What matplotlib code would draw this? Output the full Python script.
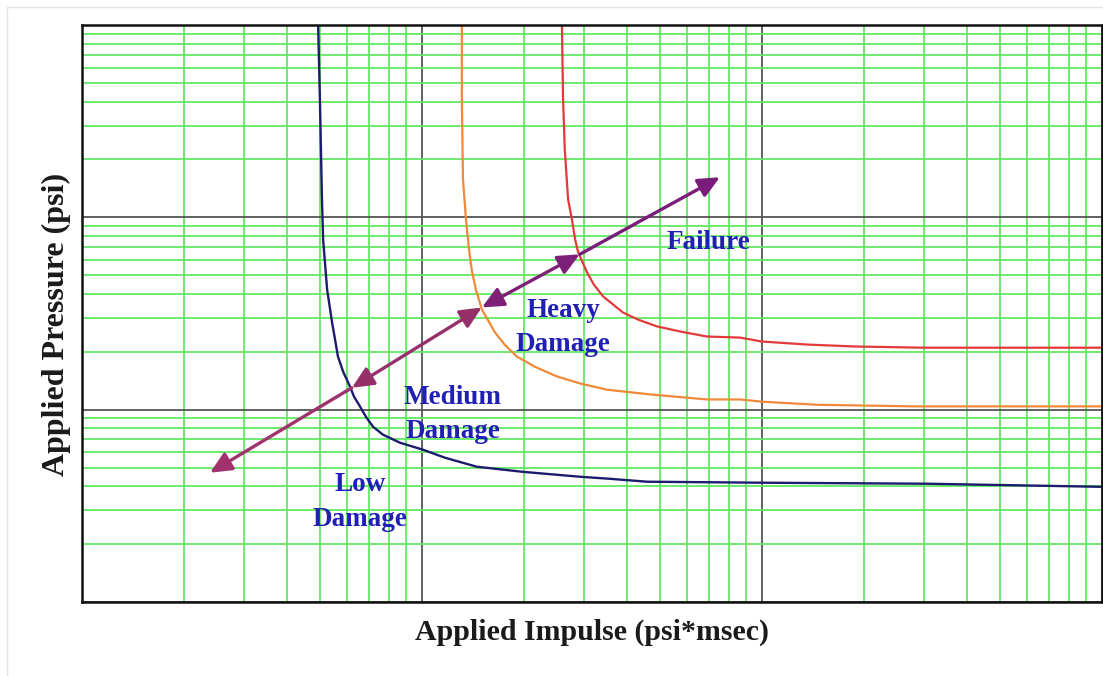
import matplotlib
matplotlib.use('Agg')
import matplotlib.pyplot as plt
from matplotlib.patches import FancyArrowPatch, Rectangle

# Pressure-impulse curves (impulse in psi*msec, pressure in psi)
low_impulse = [4.95, 5.01, 5.08, 5.12, 5.26, 5.44, 5.55, 5.66, 5.86, 6.14, 6.31, 6.57,
               6.84, 7.18, 7.68, 8.62, 10.07, 11.7, 14.5, 19.8, 29.1, 35.7, 45.9,
               100, 305, 1000]
low_pressure = [1000, 412, 124, 76.8, 42.2, 28.4, 23.2, 18.9, 15.8, 13.2, 11.7, 10.4,
                9.19, 8.15, 7.41, 6.73, 6.19, 5.62, 5.05, 4.75, 4.48, 4.37, 4.22,
                4.17, 4.12, 3.97]

medium_impulse = [13.1, 13.1, 13.2, 13.47, 13.75, 14.0, 14.4, 15.0, 16.4, 17.5, 19.0,
                  21.5, 24.9, 29.1, 35.0, 46.9, 68.9, 86.2, 100, 146, 282, 1000]
medium_pressure = [1000, 412, 158, 97.7, 68.1, 53.6, 42.2, 33.2, 25.2, 21.8, 18.9,
                   16.7, 14.9, 13.7, 12.7, 12.0, 11.3, 11.3, 11.0, 10.6, 10.4, 10.4]

heavy_impulse = [25.8, 26.0, 26.3, 26.9, 27.6, 28.2, 28.8, 30.6, 32.0, 34.1, 39.0, 43.2,
                 49.1, 57.4, 68.9, 86.2, 100, 136, 188, 298, 1000]
heavy_pressure = [1000, 412, 226, 124, 97.7, 76.8, 65.7, 51.7, 44.8, 38.8, 32.0, 29.4,
                  27.1, 25.5, 24.0, 23.7, 22.6, 21.8, 21.3, 21.0, 21.0]

# Points along the damage arrow (lower end, curve crossings, upper end)
arrow_impulse = [2.38, 6.22, 15.0, 29.1, 75.2]
arrow_pressure = [4.70, 13.0, 34.0, 64.2, 161.6]

# Region labels
region_text = ['Low\nDamage', 'Medium\nDamage', 'Heavy\nDamage', 'Failure']
region_impulse = [6.57, 12.3, 26.0, 69.4]
region_pressure = [3.32, 9.42, 26.7, 74.1]

fig = plt.figure(figsize=(11.03, 6.76), dpi=100)
ax = fig.add_axes([0.0743, 0.1095, 0.9248, 0.8535])

ax.set_xscale('log')
ax.set_yscale('log')
ax.set_xlim(1, 1000)
ax.set_ylim(1, 1000)

# grid: green minor lines, dark gray decade lines
ax.set_axisbelow(True)
ax.grid(which='minor', color='#62e862', linewidth=1.3)
ax.grid(which='major', color='#555555', linewidth=1.3)
ax.tick_params(which='both', length=0, labelbottom=False, labelleft=False)
for s in ax.spines.values():
    s.set_color('#111111')
    s.set_linewidth(1.8)

# curves
ax.plot(low_impulse, low_pressure, color='#1c1c6e', linewidth=1.7)
ax.plot(medium_impulse, medium_pressure, color='#f08a3a', linewidth=1.6)
ax.plot(heavy_impulse, heavy_pressure, color='#e23a3a', linewidth=1.6)

# arrow segments: low (single head), medium and heavy (double), failure (single)
seg_ends = [(0, 1), (1, 2), (2, 3), (3, 4)]
seg_style = ['<|-', '<|-|>', '<|-|>', '-|>']
seg_color = ['#a0336e', '#96306a', '#7f2078', '#7a1c7a']
for (a, b), style, col in zip(seg_ends, seg_style, seg_color):
    arr = FancyArrowPatch((arrow_impulse[a], arrow_pressure[a]),
                          (arrow_impulse[b], arrow_pressure[b]),
                          arrowstyle=style + ',head_length=0.65,head_width=0.3',
                          mutation_scale=20, color=col, linewidth=2.4,
                          shrinkA=0, shrinkB=0, zorder=5)
    ax.add_patch(arr)

# region labels
for t, xi, yi in zip(region_text, region_impulse, region_pressure):
    ax.text(xi, yi, t, ha='center', va='center', color='#2020b4',
            fontsize=19.5, fontweight='bold', family='Liberation Serif',
            linespacing=1.5, zorder=6)

# axis labels
fig.text(0.5367, 0.065, 'Applied Impulse (psi*msec)', ha='center', va='center',
         fontsize=21.5, fontweight='bold', family='Liberation Serif', color='#1a1a1a')
fig.text(0.0508, 0.5207, 'Applied Pressure (psi)', ha='center', va='center',
         rotation=90, fontsize=23, fontweight='bold', family='Liberation Serif',
         color='#1a1a1a')

# faint outer border
fig.add_artist(Rectangle((7 / 1103, -0.05), 1.2, 1 - 7 / 676 + 0.05,
                         transform=fig.transFigure, fill=False,
                         edgecolor='#e4e4e4', linewidth=1.0))

plt.savefig('out.png', dpi=100)
